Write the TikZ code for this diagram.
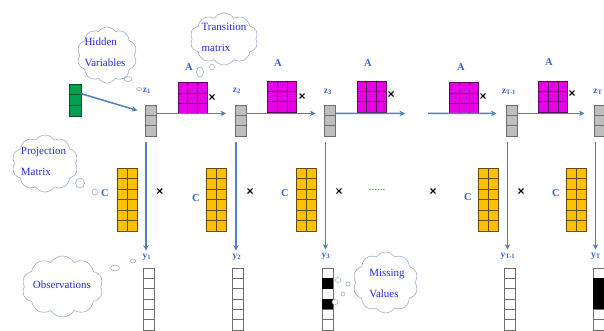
\documentclass[tikz,border=0pt]{standalone}
\usepackage{fontspec}
\setmainfont{Liberation Serif}
\newfontfamily\symfont{Liberation Sans}
\usetikzlibrary{shapes.symbols,shapes.geometric,calc,arrows.meta}
\definecolor{arrblue}{RGB}{79,129,189}
\definecolor{lblblue}{RGB}{51,102,214}
\definecolor{cldtxt}{RGB}{40,40,235}
\definecolor{cldline}{RGB}{160,176,200}
\definecolor{magfill}{RGB}{230,0,230}
\definecolor{magline}{RGB}{90,10,90}
\definecolor{yelfill}{RGB}{255,192,0}
\definecolor{yelline}{RGB}{100,75,0}
\definecolor{gryfill}{RGB}{190,190,190}
\definecolor{gryline}{RGB}{110,110,110}
\definecolor{grnfill}{RGB}{0,160,80}
\definecolor{grnline}{RGB}{0,80,40}
\newcommand\hgrid[3]{\foreach \f in {#2}{\draw[#3] ($(#1.north west)!\f!(#1.south west)$) -- ($(#1.north east)!\f!(#1.south east)$);}}
\newcommand\vgrid[3]{\foreach \f in {#2}{\draw[#3] ($(#1.north west)!\f!(#1.north east)$) -- ($(#1.south west)!\f!(#1.south east)$);}}
\newcommand\blackcell[3]{\fill[black] ($(#1.north west)!#2!(#1.south west)$) rectangle ($(#1.north east)!#3!(#1.south east)$);}
\tikzset{
 cell/.style={rectangle, inner sep=0pt, outer sep=0pt, line width=0.6pt},
 zbox/.style={cell, fill=gryfill, draw=gryline, minimum width=11pt, minimum height=31pt},
 gbox/.style={cell, fill=grnfill, draw=grnline, minimum width=12pt, minimum height=32pt},
 abox/.style={cell, fill=magfill, draw=magline, minimum width=29pt, minimum height=31pt},
 cbox/.style={cell, fill=yelfill, draw=yelline, minimum width=20pt, minimum height=63pt},
 obox/.style={cell, fill=white, draw=gryline, minimum width=11pt, minimum height=62pt},
 lbl/.style={text=lblblue, font=\bfseries\fontsize{10.5}{10.5}\selectfont, inner sep=1pt},
 zlbl/.style={text=lblblue, font=\bfseries\fontsize{9.5}{9.5}\selectfont, inner sep=1pt},
 timesmark/.style={font=\symfont\bfseries\fontsize{12}{12}\selectfont, inner sep=0pt},
 cld/.style={cloud, cloud puffs=10, cloud puff arc=115, cloud ignores aspect, draw=cldline, fill=white, line width=0.6pt, inner sep=0pt},
 cldtext/.style={text=cldtxt, font=\fontsize{11}{21}\selectfont, align=left, inner sep=0pt},
 bub/.style={ellipse, draw=cldline, fill=white, line width=0.6pt, inner sep=0pt},
 harr/.style={draw=arrblue, line width=1.5pt, -{Stealth[length=5.5pt,width=5.5pt]}},
}
\begin{document}
\begin{tikzpicture}[x=1pt,y=-1pt]
\useasboundingbox (0,0) rectangle (604,331);
% clouds
\node[cld, minimum width=60pt, minimum height=56pt] (cHid) at (107,55) {};
\node[cldtext] (tHid) at (105,52.5) {Hidden\\Variables};
\node[bub, minimum width=8pt, minimum height=5pt] (bH1) at (128,79) {};
\node[bub, minimum width=5pt, minimum height=3pt] (bH2) at (139,89) {};
\node[cld, minimum width=68pt, minimum height=52pt] (cTra) at (224,39) {};
\node[cldtext] (tTra) at (224,37.5) {Transition\\matrix};
\node[bub, minimum width=7pt, minimum height=10pt] (bT1) at (200,72) {};
\node[bub, minimum width=5pt, minimum height=6pt] (bT2) at (212,67) {};
\node[cld, minimum width=66pt, minimum height=57pt] (cPro) at (45,163.5) {};
\node[cldtext] (tPro) at (43.5,161.5) {Projection\\Matrix};
\node[bub, minimum width=9pt, minimum height=10pt] (bP1) at (80,183) {};
\node[bub, minimum width=6pt, minimum height=6pt] (bP2) at (95,192) {};
\node[cld, minimum width=81pt, minimum height=61pt] (cObs) at (62.5,286.5) {};
\node[cldtext] (tObs) at (62,285) {Observations};
\node[bub, minimum width=9pt, minimum height=6pt] (bO1) at (115,268) {};
\node[bub, minimum width=6pt, minimum height=4pt] (bO2) at (133,261) {};
\node[cld, minimum width=65pt, minimum height=61pt] (cMis) at (385.5,282.5) {};
\node[cldtext] (tMis) at (387,283) {Missing\\Values};
\node[bub, minimum width=6pt, minimum height=5pt] (bM1) at (338,280) {};
\node[bub, minimum width=4pt, minimum height=4pt] (bM2) at (348,284) {};
\node[bub, minimum width=4pt, minimum height=4pt] (bM3) at (343,294) {};
% hidden state boxes
\node[gbox] (g) at (75,100) {};
\node[zbox] (z1) at (150.5,120.5) {};
\node[zbox] (z2) at (240.5,120.5) {};
\node[zbox] (z3) at (330,120.5) {};
\node[zbox] (zT1) at (512,120.5) {};
\node[zbox] (zT) at (600,120.5) {};
\foreach \n in {z1,z2,z3,zT1,zT}{\hgrid{\n}{1/3,2/3}{gryline}}
\hgrid{g}{1/3,2/3}{grnline}
% z labels
\node[zlbl] (lz1) at (147,91) {z\textsubscript{1}};
\node[zlbl] (lz2) at (237,91) {z\textsubscript{2}};
\node[zlbl] (lz3) at (328,92) {z\textsubscript{3}};
\node[zlbl] (lzT1) at (509,92) {z\textsubscript{T-1}};
\node[zlbl] (lzT) at (598,92) {z\textsubscript{T}};
% transition matrices
\node[abox] (m1) at (192.5,98) {};
\node[abox] (m2) at (282,96.5) {};
\node[abox] (m3) at (371.5,96.5) {};
\node[abox] (m4) at (464,98) {};
\node[abox] (m5) at (553,96.5) {};
\foreach \n in {m1,m2,m3,m4,m5}{\hgrid{\n}{1/3,2/3}{magline}\vgrid{\n}{1/3,2/3}{magline}}
\node[lbl] (lA1) at (189,67) {A};
\node[lbl] (lA2) at (278,63) {A};
\node[lbl] (lA3) at (368,63) {A};
\node[lbl] (lA4) at (461,67) {A};
\node[lbl] (lA5) at (549,62) {A};
\node[timesmark] (xA1) at (212,98) {×};
\node[timesmark] (xA2) at (302,97) {×};
\node[timesmark] (xA3) at (391,95) {×};
\node[timesmark] (xA4) at (483,97) {×};
\node[timesmark] (xA5) at (572,94) {×};
% horizontal arrows
\coordinate (e3) at (405,113.5);
\coordinate (s4) at (428,113.5);
\draw[harr, shorten >=8pt] ($(g.north east)!0.3!(g.south east)$) -- ($(z1.north west)!0.25!(z1.south west)$);
\draw[harr, shorten >=9pt] ($(z1.north east)!0.27!(z1.south east)$) -- ($(z2.north west)!0.27!(z2.south west)$);
\draw[harr, shorten >=9pt] ($(z2.north east)!0.27!(z2.south east)$) -- ($(z3.north west)!0.27!(z3.south west)$);
\draw[harr] ($(z3.north east)!0.27!(z3.south east)$) -- (e3);
\draw[harr, shorten >=10pt] (s4) -- ($(zT1.north west)!0.27!(zT1.south west)$);
\draw[harr, shorten >=10pt] ($(zT1.north east)!0.27!(zT1.south east)$) -- ($(zT.north west)!0.27!(zT.south west)$);
% projection matrices
\node[cbox] (c1) at (127,199.5) {};
\node[cbox] (c2) at (216.5,199.5) {};
\node[cbox] (c3) at (306,199.5) {};
\node[cbox] (c4) at (488.5,199.5) {};
\node[cbox] (c5) at (576.5,199.5) {};
\foreach \n in {c1,c2,c3,c4,c5}{\hgrid{\n}{1/6,2/6,3/6,4/6,5/6}{yelline}\vgrid{\n}{1/2}{yelline}}
\node[lbl] (lC1) at (105,193) {C};
\node[lbl] (lC2) at (196,198) {C};
\node[lbl] (lC3) at (285,193) {C};
\node[lbl] (lC4) at (468,197) {C};
\node[lbl] (lC5) at (556,193) {C};
\node[timesmark] (xC1) at (160,192) {×};
\node[timesmark] (xC2) at (250,192) {×};
\node[timesmark] (xC3) at (339,192) {×};
\node[timesmark] (xC4) at (433,192) {×};
\node[timesmark] (xC5) at (521,192) {×};
\node[text=lblblue, font=\fontsize{11}{11}\selectfont, inner sep=0pt] (dots) at (377,190) {......};
% observation labels and columns
\node[zlbl] (ly1) at (147,257) {y\textsubscript{1}};
\node[zlbl] (ly2) at (237,257) {y\textsubscript{2}};
\node[zlbl] (ly3) at (326,256) {y\textsubscript{3}};
\node[zlbl] (lyT1) at (508,256) {y\textsubscript{T-1}};
\node[zlbl] (lyT) at (596,256) {y\textsubscript{T}};
\node[obox] (o1) at (148.5,299) {};
\node[obox] (o2) at (237.5,299) {};
\node[obox] (o3) at (327.5,299) {};
\node[obox] (oT1) at (509.5,299) {};
\node[obox] (oT) at (598.5,299) {};
\foreach \n in {o1,o2,o3,oT1,oT}{\hgrid{\n}{1/6,2/6,3/6,4/6,5/6}{gryline, line width=0.6pt}}
\blackcell{o3}{1/6}{2/6}
\blackcell{o3}{3/6}{4/6}
\blackcell{oT}{1/6}{4/6}
\node[bub, minimum width=6pt, minimum height=5pt] (bM4) at (335,302) {};
% vertical arrows
\foreach \z/\y in {z1/ly1,z2/ly2,z3/ly3,zT1/lyT1,zT/lyT}{
  \draw[harr, shorten >=2pt] ($(\z.south west)+(1,6)$) coordinate (s\z) -- (s\z |- \y.north);
}
\end{tikzpicture}
\end{document}
